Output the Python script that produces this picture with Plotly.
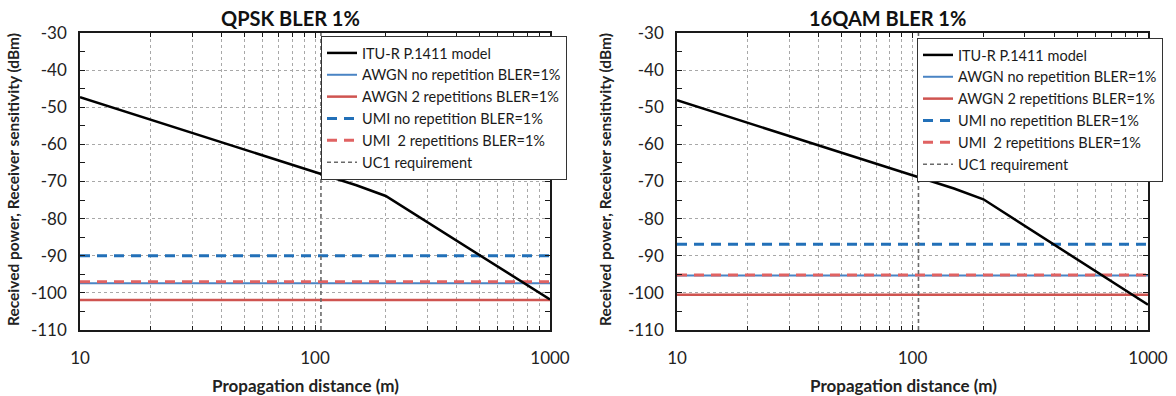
import plotly.graph_objects as go

W, H = 1176, 396

# ---------------- data ----------------
itu_dist = [10, 100, 150, 200, 1000]
itu_qpsk = [-47.3, -67.4, -71.0, -73.9, -101.8]
itu_16qam = [-48.1, -68.2, -71.9, -74.8, -103.2]

xline = [10, 1000]
qpsk_awgn_norep = -97.4
qpsk_awgn_2rep = -101.9
qpsk_umi_norep = -90.0
qpsk_umi_2rep = -97.0

qam_awgn_norep = -95.3
qam_awgn_2rep = -100.5
qam_umi_norep = -86.9
qam_umi_2rep = -95.2

uc1_distance = 106
y_range = [-110, -30]

titles = ["QPSK BLER 1%", "16QAM BLER 1%"]
names = ["ITU-R P.1411 model", "AWGN no repetition BLER=1%", "AWGN 2 repetitions BLER=1%",
         "UMI no repetition BLER=1%", "UMI  2 repetitions BLER=1%", "UC1 requirement"]
x_tick_vals = [10, 100, 1000]
x_tick_text = ["10", "100", "1000"]
x_minor_vals = [m * d for d in (10, 100) for m in range(2, 10)]
y_tick_vals = [-110, -100, -90, -80, -70, -60, -50, -40, -30]
y_tick_text = ["-110", "-100", "-90", "-80", "-70", "-60", "-50", "-40", "-30"]

FONT = "Lato"
C_BLACK = "#000000"
C_AWGN1 = "#4A84C4"
C_AWGN2 = "#CF5450"
C_UMI1 = "#2270B8"
C_UMI2 = "#E06262"
C_UC1 = "#6A6A6A"

fig = go.Figure()

panels = [
    dict(xa="x", ya="y", leg="legend", itu=itu_qpsk,
         vals=[qpsk_awgn_norep, qpsk_awgn_2rep, qpsk_umi_norep, qpsk_umi_2rep]),
    dict(xa="x2", ya="y2", leg="legend2", itu=itu_16qam,
         vals=[qam_awgn_norep, qam_awgn_2rep, qam_umi_norep, qam_umi_2rep]),
]

styles = [
    dict(color=C_AWGN1, width=2, dash="solid"),
    dict(color=C_AWGN2, width=2.5, dash="solid"),
    dict(color=C_UMI1, width=3, dash="10px,7px"),
    dict(color=C_UMI2, width=3, dash="10px,7px"),
]

for p in panels:
    for i, (v, st) in enumerate(zip(p["vals"], styles)):
        fig.add_trace(go.Scatter(x=xline, y=[v, v], mode="lines", name=names[i + 1],
                                 line=st, xaxis=p["xa"], yaxis=p["ya"],
                                 legend=p["leg"], legendrank=i + 2))
    fig.add_trace(go.Scatter(x=[uc1_distance, uc1_distance], y=y_range, mode="lines",
                             name=names[5], line=dict(color=C_UC1, width=1.6, dash="4px,3px"),
                             xaxis=p["xa"], yaxis=p["ya"], legend=p["leg"], legendrank=6))
    fig.add_trace(go.Scatter(x=itu_dist, y=p["itu"], mode="lines", name=names[0],
                             line=dict(color=C_BLACK, width=2.5),
                             xaxis=p["xa"], yaxis=p["ya"], legend=p["leg"], legendrank=1))

def px(x):
    return x / W

def py(y):
    return 1 - y / H

axis_common = dict(showline=True, linecolor="#1a1a1a", linewidth=1.5, mirror="ticks",
                   ticks="inside", ticklen=5, tickcolor="#1a1a1a", automargin=False,
                   tickfont=dict(family=FONT, size=17, color="#222"),
                   showgrid=True, gridcolor="#a8a8a8", griddash="dot", gridwidth=1,
                   zeroline=False)

xdoms = [[px(80), px(550)], [px(677), px(1148)]]
ydom = [py(330), py(33)]

for k, (xa, ya) in enumerate([("xaxis", "yaxis"), ("xaxis2", "yaxis2")]):
    fig.layout[xa] = dict(axis_common, type="log", range=[1, 3], domain=xdoms[k],
                          anchor="y" if k == 0 else "y2",
                          tickvals=x_tick_vals, ticktext=x_tick_text,
                          ticklabelstandoff=12,
                          minor=dict(tickvals=x_minor_vals, showgrid=True, gridcolor="#a8a8a8",
                                     griddash="dot", gridwidth=1, ticks="inside", ticklen=4,
                                     tickcolor="#1a1a1a"))
    fig.layout[ya] = dict(axis_common, range=y_range, domain=ydom,
                          tickvals=y_tick_vals, ticktext=y_tick_text,
                          anchor="x" if k == 0 else "x2", ticklabelstandoff=8,
                          minor=dict(dtick=5, ticks="inside", ticklen=5, tickcolor="#1a1a1a",
                                     showgrid=False))

legend_common = dict(font=dict(family=FONT, size=14.5, color="#1a1a1a"), bgcolor="white",
                     bordercolor="#333", borderwidth=1, xanchor="left", yanchor="top",
                     itemwidth=30, tracegroupgap=0)
fig.update_layout(
    legend=dict(legend_common, x=px(321), y=py(36)),
    legend2=dict(legend_common, x=px(917), y=py(38)),
)

ann = []
title_x = [290, 887]
xt_x = [305, 903]
yt_x = [13, 605]
for k in range(2):
    ann.append(dict(text="<b>" + titles[k] + "</b>", x=px(title_x[k]), y=py(18), xref="paper",
                    yref="paper", xanchor="center", yanchor="middle", showarrow=False,
                    font=dict(family=FONT, size=20, color="#111")))
    ann.append(dict(text="<b>Propagation distance (m)</b>", x=px(xt_x[k]), y=py(385),
                    xref="paper", yref="paper", xanchor="center", yanchor="middle",
                    showarrow=False, font=dict(family=FONT, size=17, color="#222")))
    ann.append(dict(text="<b>Received power, Receiver sensitivity (dBm)</b>", x=px(yt_x[k]),
                    y=py(180), xref="paper", yref="paper", xanchor="center", yanchor="middle",
                    showarrow=False, textangle=-90,
                    font=dict(family=FONT, size=15.5, color="#222")))

fig.update_layout(width=W, height=H, margin=dict(l=0, r=0, t=0, b=0, autoexpand=False),
                  paper_bgcolor="white", plot_bgcolor="white", annotations=ann,
                  showlegend=True)

fig.write_html("out.html", config={"displayModeBar": False},
               post_script="document.body.style.margin='0';document.body.style.padding='0';")
